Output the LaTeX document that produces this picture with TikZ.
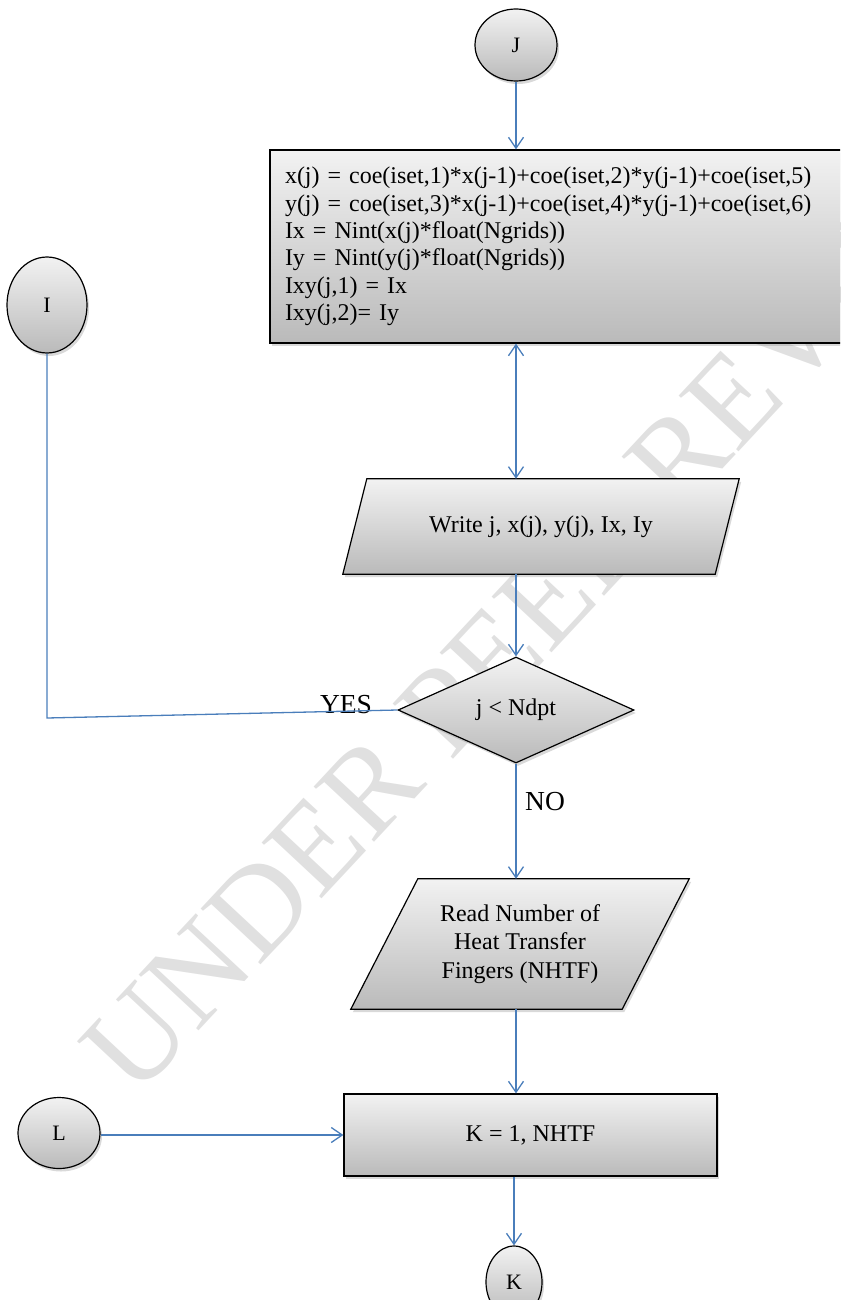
\documentclass[tikz,border=0pt]{standalone}
\usepackage{fontspec}
\setmainfont{Liberation Serif}
\usetikzlibrary{shapes.geometric,arrows.meta,shadows}
\definecolor{linkblue}{RGB}{74,126,187}
\definecolor{fillhi}{RGB}{242,242,242}
\definecolor{filllo}{RGB}{186,186,186}
\definecolor{markgray}{RGB}{224,224,224}

\pgfdeclarelayer{under}
\pgfsetlayers{under,main}

\tikzset{
  shade/.style={draw=black, line width=1.2pt, top color=fillhi, bottom color=filllo,
    drop shadow={shadow xshift=2pt, shadow yshift=-3pt, opacity=0.3}},
  box/.style={shade, inner sep=0pt, font=\fontsize{24}{27.4}\selectfont},
  term/.style={box, ellipse, font=\fontsize{22}{24}\selectfont},
  proc/.style={box, rectangle},
  iotext/.style={rectangle, inner sep=0pt, font=\fontsize{24}{27.4}\selectfont},
  iobox/.style={shade},
  decide/.style={box, diamond},
  barb/.tip={Straight Barb[length=11pt,width=15pt]},
  link/.style={draw=linkblue, line width=1.3pt},
  flow/.style={link, -barb},
  tag/.style={font=\fontsize{27.5}{30}\selectfont, inner sep=0pt}
}

\begin{document}
\begin{tikzpicture}[x=1pt,y=-1pt]
\useasboundingbox (0,0) rectangle (840,1300);
\clip (0,0) rectangle (840,1300);

% watermark behind the chart
\begin{pgfonlayer}{under}
\node[rotate=47, anchor=base west, text=markgray, inner sep=0pt,
      font=\fontsize{125}{125}\selectfont] (mark) at (135,1100) {UNDER PEER REVIEW};
\end{pgfonlayer}

% connectors' end points
\coordinate (bend) at (47,718);

% chart nodes
\node[term, minimum width=82, minimum height=72] (J) at (516,45) {J};
\node[proc, minimum width=590, minimum height=193, text width=560, align=left] (calc) at (565,246.5)
  {x(j) = coe(iset,1)*x(j-1)+coe(iset,2)*y(j-1)+coe(iset,5)\\
   y(j) = coe(iset,3)*x(j-1)+coe(iset,4)*y(j-1)+coe(iset,6)\\
   Ix = Nint(x(j)*float(Ngrids))\\
   Iy = Nint(y(j)*float(Ngrids))\\
   Ixy(j,1) = Ix\\
   Ixy(j,2)= Iy};
\node[iotext, minimum width=372, minimum height=95] (out) at (541,526.5) {Write j, x(j), y(j), Ix, Iy};
\node[decide, minimum width=236, minimum height=106] (test) at (516,710) {j < Ndpt};
\node[iotext, minimum width=271, minimum height=130, align=center,
      font=\fontsize{24}{28.5}\selectfont] (rd) at (520,944)
  {Read Number of\\Heat Transfer\\Fingers (NHTF)};
\node[proc, minimum width=373, minimum height=82] (loop) at (530.5,1135) {K = 1, NHTF};
\node[term, minimum width=80, minimum height=96] (I) at (47,305) {I};
\node[term, minimum width=82, minimum height=71] (L) at (59,1133) {L};
\node[term, minimum width=56, minimum height=72] (K) at (514,1282) {K};

% slanted input/output outlines, drawn beneath their texts
\begin{pgfonlayer}{under}
\path[iobox] ([xshift=-12pt]out.south west) -- ([xshift=12pt]out.north west)
  -- ([xshift=12pt]out.north east) -- ([xshift=-12pt]out.south east) -- cycle;
\path[iobox] ([xshift=-33.5pt]rd.south west) -- ([xshift=33.5pt]rd.north west)
  -- ([xshift=33.5pt]rd.north east) -- ([xshift=-33.5pt]rd.south east) -- cycle;
\end{pgfonlayer}

% branch labels
\node[tag] (yes) at (346,705) {YES};
\node[tag] (no) at (545,802) {NO};

% connectors
\draw[flow] (J) -- (J |- calc.north);
\draw[link, barb-barb] (J |- calc.south) -- (J |- out.north);
\draw[flow] (J |- out.south) -- (test.north);
\draw[link] (test.west) -- (bend) -- (I.south);
\draw[flow] (test.south) -- (test.south |- rd.north);
\draw[flow] (test.south |- rd.south) -- (test.south |- loop.north);
\draw[flow] (L.east |- loop.west) -- (loop.west);
\draw[flow] (K |- loop.south) -- (K);
\end{tikzpicture}
\end{document}
